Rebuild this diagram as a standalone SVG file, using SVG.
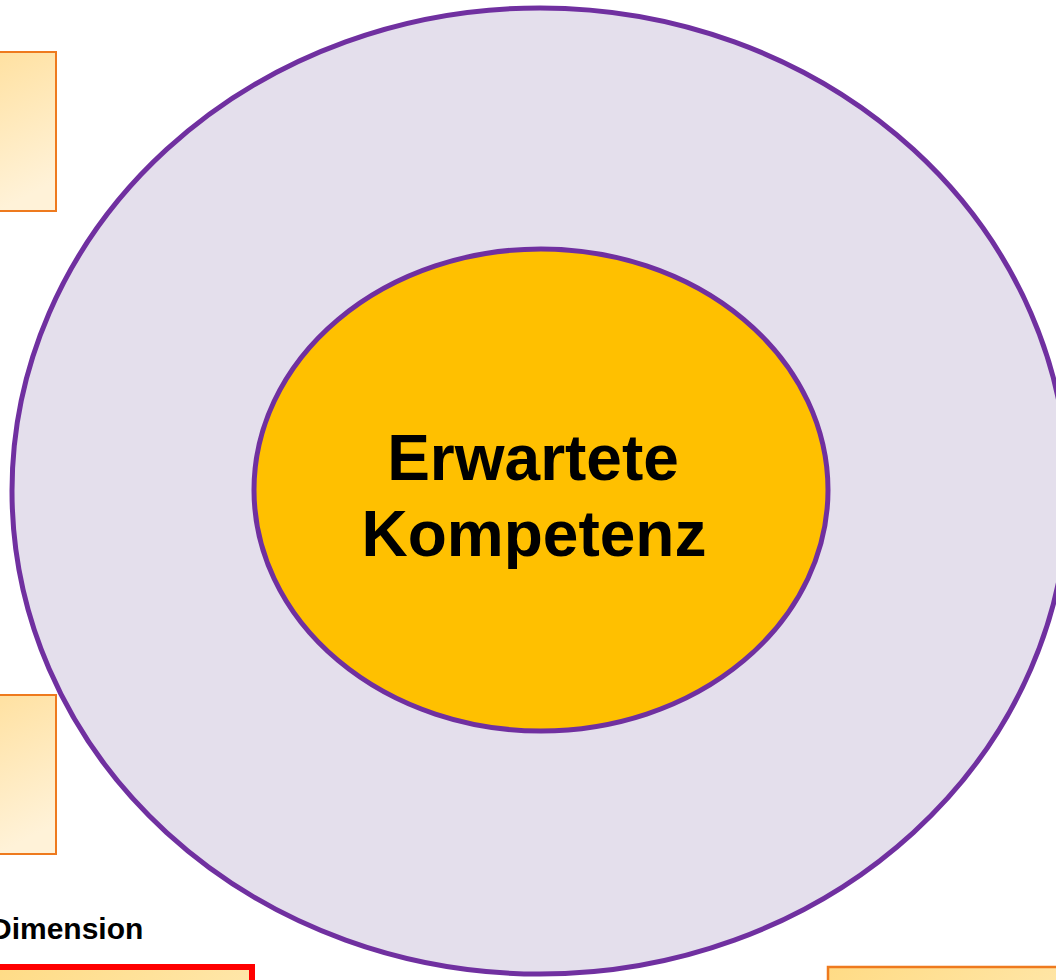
<svg xmlns="http://www.w3.org/2000/svg" width="1056" height="980" viewBox="0 0 1056 980">
  <defs>
    <linearGradient id="boxFill" x1="0" y1="0" x2="0.25" y2="1">
      <stop offset="0" stop-color="#FFE09E"/>
      <stop offset="1" stop-color="#FFF2D8"/>
    </linearGradient>
    <linearGradient id="boxFillLow" x1="0" y1="0" x2="1" y2="0.2">
      <stop offset="0" stop-color="#FFDB85"/>
      <stop offset="1" stop-color="#FFE6A8"/>
    </linearGradient>
    <style>
      .ring { stroke: #7030A0; stroke-width: 5; }
      .card { fill: url(#boxFill); stroke: #EE7A1E; stroke-width: 2; }
      .cardLow { fill: url(#boxFillLow); stroke: #EE7A1E; stroke-width: 2.5; }
      .title { font-family: "Liberation Sans", Arial, sans-serif; font-weight: bold; fill: #000; }
    </style>
  </defs>

  <rect width="1056" height="980" fill="#FFFFFF"/>

  <!-- side cards -->
  <g id="card-top-left">
    <rect class="card" x="-20" y="52" width="76" height="159"/>
  </g>
  <g id="card-mid-left">
    <rect class="card" x="-20" y="695" width="76" height="159"/>
  </g>

  <!-- outer ring -->
  <g id="outer-ring">
    <ellipse class="ring" cx="540" cy="491" rx="528" ry="483" fill="#E4DFEC"/>
  </g>

  <!-- core -->
  <g id="core">
    <ellipse class="ring" cx="541" cy="490" rx="287" ry="241" fill="#FFC000"/>
    <text class="title" x="533" y="480" font-size="64" text-anchor="middle">Erwartete</text>
    <text class="title" x="534" y="556" font-size="64" text-anchor="middle">Kompetenz</text>
  </g>

  <!-- dimension label, running off the left edge -->
  <g id="dimension-label">
    <text class="title" x="-10" y="939" font-size="30">Dimension</text>
  </g>

  <!-- bottom cards -->
  <g id="card-bottom-left">
    <rect x="-10" y="967" width="262" height="40" fill="url(#boxFillLow)" stroke="#FF0000" stroke-width="6"/>
  </g>
  <g id="card-bottom-right">
    <rect class="cardLow" x="828" y="967" width="260" height="40"/>
  </g>

  <g id="connectors"></g>
</svg>
